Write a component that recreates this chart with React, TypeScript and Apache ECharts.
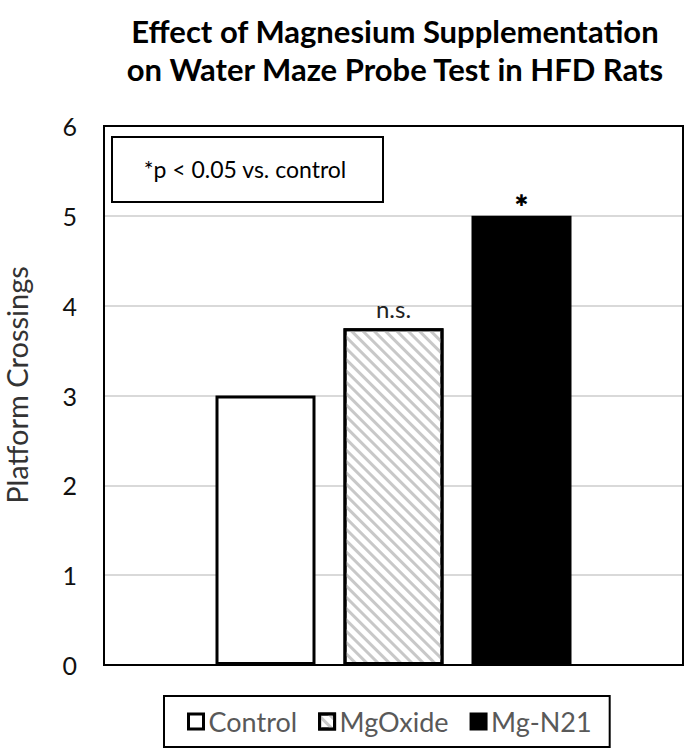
import React, { useEffect, useRef } from 'react';
import * as echarts from 'echarts';

const categories = ['Probe Test'];
const seriesNames = ['Control', 'MgOxide', 'Mg-N21'];
const controlValues = [3.0];
const mgOxideValues = [3.75];
const mgN21Values = [5.0];
const yMin = 0;
const yMax = 6;
const yInterval = 1;
const titleText = 'Effect of Magnesium Supplementation\non Water Maze Probe Test in HFD Rats';
const yAxisName = 'Platform Crossings';
const noteText = '*p < 0.05 vs. control';
const mgOxideMark = 'n.s.';
const mgN21Mark = '\u2731';

const FONT = 'Lato, "Open Sans", sans-serif';

export default function App() {
  const ref = useRef<HTMLDivElement>(null);
  useEffect(() => {
    document.body.style.margin = '0';
    const chart = echarts.init(ref.current!, null, { renderer: 'svg' });
    const gridLeft = 104;
    const gridTop = 126;
    const gridRight = 683;
    const gridBottom = 665;
    const option: any = {
      animation: false,
      backgroundColor: '#fff',
      title: {
        text: titleText,
        left: 390,
        top: 7,
        textAlign: 'center',
        textStyle: { fontFamily: FONT, fontSize: 31, fontWeight: 'bold', color: '#000', lineHeight: 38 },
      },
      grid: { left: gridLeft, top: gridTop, right: 685 - gridRight, bottom: 752 - gridBottom, show: false },
      xAxis: {
        type: 'category',
        data: categories,
        axisLabel: { show: false },
        axisTick: { show: false },
        axisLine: { show: true, lineStyle: { color: '#000', width: 2 } },
      },
      yAxis: {
        type: 'value',
        min: yMin,
        max: yMax,
        interval: yInterval,
        axisLine: { show: false },
        axisTick: { show: false },
        axisLabel: { fontFamily: FONT, fontSize: 25, color: '#111', margin: 27 },
        splitLine: { lineStyle: { color: '#d9d9d9', width: 2 } },
      },
      legend: {
        left: 164,
        top: 696,
        padding: [12, 18, 12, 23],
        itemGap: 21,
        itemWidth: 15,
        itemHeight: 15,
        icon: 'rect',
        borderColor: '#000',
        borderWidth: 2,
        textStyle: { fontFamily: FONT, fontSize: 27, color: '#595959' },
        data: seriesNames.map((n) => ({ name: n, itemStyle: { borderColor: '#000', borderWidth: 3 } })),
      },
      series: [
        {
          name: seriesNames[0],
          type: 'bar',
          data: controlValues,
          barWidth: 100,
          barGap: '28%',
          itemStyle: { color: '#fff', borderColor: '#000', borderWidth: 3 },
        },
        {
          name: seriesNames[1],
          type: 'bar',
          data: mgOxideValues,
          barWidth: 100,
          barGap: '28%',
          itemStyle: {
            color: '#fff',
            borderColor: '#000',
            borderWidth: 3,
            decal: {
              symbol: 'rect',
              symbolSize: 1,
              dashArrayX: [1, 0],
              dashArrayY: [3, 5],
              rotation: Math.PI / 4,
              color: '#c8c8c8',
            },
          },
          label: {
            show: true,
            position: 'top',
            distance: 8,
            formatter: mgOxideMark,
            fontFamily: FONT,
            fontSize: 24,
            color: '#222',
          },
        },
        {
          name: seriesNames[2],
          type: 'bar',
          data: mgN21Values,
          barWidth: 100,
          barGap: '28%',
          itemStyle: { color: '#000', borderColor: '#000', borderWidth: 3 },
          label: {
            show: true,
            position: 'top',
            distance: 7,
            formatter: mgN21Mark,
            fontFamily: '"DejaVu Sans"',
            fontSize: 16,
            color: '#000',
          },
        },
      ],
      graphic: [
        {
          type: 'rect',
          z: 100,
          shape: { x: gridLeft, y: gridTop, width: gridRight - gridLeft, height: gridBottom - gridTop },
          style: { fill: 'none', stroke: '#000', lineWidth: 2 },
        },
        {
          type: 'rect',
          z: 100,
          shape: { x: 112, y: 137, width: 271, height: 65 },
          style: { fill: '#fff', stroke: '#000', lineWidth: 2 },
        },
        {
          type: 'text',
          z: 101,
          x: 245,
          y: 169,
          style: { text: noteText, fontFamily: FONT, fontSize: 23, fill: '#000', align: 'center', verticalAlign: 'middle' },
        },
        {
          type: 'text',
          z: 101,
          x: 16,
          y: 385,
          rotation: Math.PI / 2,
          style: { text: yAxisName, fontFamily: FONT, fontSize: 29, fill: '#333', align: 'center', verticalAlign: 'middle' },
        },
      ],
    };
    chart.setOption(option);
    return () => chart.dispose();
  }, []);
  return <div ref={ref} style={{ position: 'absolute', left: 0, top: 0, width: 685, height: 752 }} />;
}
